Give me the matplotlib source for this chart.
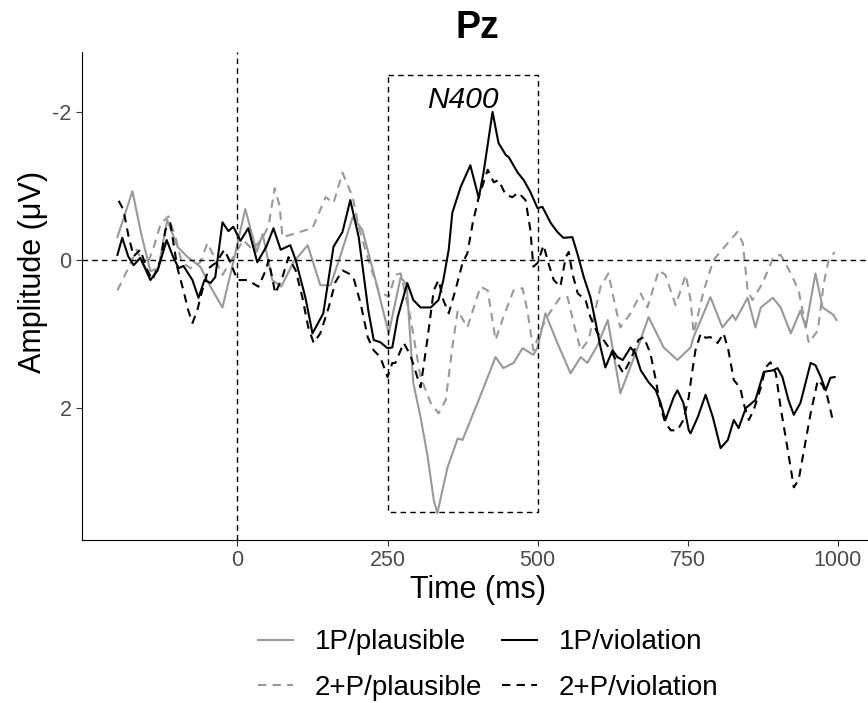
#!/usr/bin/env python3
import matplotlib
matplotlib.use("Agg")
from matplotlib import pyplot as plt

plt.rcParams['font.family'] = ['Liberation Sans', 'DejaVu Sans']
plt.rcParams['axes.unicode_minus'] = False

# 1P/plausible (grey solid)
t_1p_pl = [-200, -175, -160, -145, -132, -117, -100, -83, -62, -45, -25, -7, 13, 32, 42, 58, 73, 93,
           117, 138, 155, 172, 192, 208, 230, 252, 272, 282, 293, 305, 317, 327, 333, 350, 367, 375,
           400, 417, 430, 443, 460, 475, 493, 500, 513, 533, 555, 572, 583, 600, 617, 638, 667, 685,
           710, 733, 755, 760, 788, 808, 825, 830, 850, 863, 872, 892, 905, 922, 938, 947, 963, 975,
           993, 998]
v_1p_pl = [-0.31, -0.93, -0.34, 0.15, 0.11, -0.54, -0.18, -0.04, 0.09, 0.36, 0.64, 0.03, -0.69, -0.11,
           -0.35, 0.27, 0.36, 0.03, -0.2, 0.34, 0.34, -0.07, -0.58, -0.41, 0.27, 0.99, 0.23, 0.34, 1.66,
           2.12, 2.66, 3.24, 3.42, 2.8, 2.41, 2.43, 1.93, 1.58, 1.31, 1.46, 1.39, 1.19, 1.28, 1.18, 0.72,
           1.12, 1.53, 1.31, 1.39, 1.15, 0.81, 1.8, 1.18, 0.77, 1.18, 1.35, 1.18, 1.04, 0.5, 0.91, 0.74,
           0.81, 0.51, 0.91, 0.64, 0.51, 0.64, 0.99, 0.68, 0.91, 0.18, 0.64, 0.74, 0.81]

# 2+P/plausible (grey dashed)
t_2p_pl = [-200, -182, -168, -153, -140, -128, -115, -103, -93, -78, -62, -50, -38, -25, -12, 0, 10, 25,
           42, 52, 62, 70, 75, 88, 108, 125, 147, 160, 175, 192, 202, 218, 235, 252, 263, 272, 288, 305,
           322, 335, 347, 358, 367, 383, 405, 417, 430, 443, 460, 475, 483, 493, 505, 518, 538, 550, 560,
           572, 585, 605, 618, 630, 638, 655, 672, 683, 702, 713, 730, 747, 755, 760, 777, 793, 817, 833,
           842, 850, 858, 875, 893, 905, 922, 935, 952, 967, 977, 985, 995]
v_2p_pl = [0.41, 0.11, -0.14, 0.11, -0.16, -0.49, -0.59, -0.3, 0.03, 0.11, 0.03, -0.23, -0.03, 0.2, 0.03,
           -0.14, -0.27, -0.14, -0.3, -0.47, -0.97, -0.74, -0.31, -0.34, -0.39, -0.43, -0.85, -0.77, -1.18,
           -0.85, -0.45, 0.0, 0.41, 0.5, 0.2, 0.18, 0.77, 1.58, 1.93, 2.07, 1.89, 1.18, 0.68, 0.91, 0.36,
           0.41, 1.08, 0.77, 0.41, 0.38, 0.68, 1.22, 0.95, 0.74, 0.5, 0.5, 0.85, 1.22, 1.08, 0.36, 0.18,
           0.64, 0.91, 0.72, 0.45, 0.64, 0.14, 0.2, 0.61, 0.2, 0.54, 0.99, 0.41, 0.0, -0.23, -0.38, -0.23,
           0.41, 0.54, 0.31, -0.04, -0.07, 0.18, 0.41, 1.12, 0.95, 0.31, 0.0, -0.11]

# 1P/violation (black solid)
t_1p_vi = [-200, -192, -182, -173, -162, -145, -133, -118, -107, -98, -90, -75, -65, -55, -45, -37, -25,
           -15, -7, 5, 18, 33, 48, 60, 72, 88, 97, 113, 125, 143, 160, 175, 188, 202, 218, 227, 238, 250,
           258, 267, 283, 293, 305, 322, 335, 343, 352, 358, 372, 388, 402, 410, 425, 435, 447, 452, 467,
           477, 488, 500, 508, 522, 533, 543, 558, 567, 577, 588, 597, 605, 613, 625, 633, 642, 655, 663,
           672, 685, 697, 705, 713, 727, 733, 743, 752, 755, 767, 780, 792, 805, 817, 827, 835, 847, 863,
           877, 892, 900, 908, 918, 927, 938, 955, 963, 972, 980, 988, 995]
v_1p_vi = [-0.07, -0.3, -0.05, 0.07, -0.03, 0.27, 0.14, -0.27, -0.04, 0.11, 0.08, 0.27, 0.51, 0.27, 0.31,
           0.23, -0.51, -0.39, -0.45, -0.26, -0.43, 0.03, -0.18, -0.43, -0.14, -0.2, 0.0, 0.5, 0.99, 0.72,
           -0.18, -0.38, -0.81, -0.31, 0.68, 1.08, 1.11, 1.19, 1.18, 0.77, 0.31, 0.54, 0.64, 0.64, 0.54,
           0.27, -0.14, -0.64, -0.99, -1.28, -0.84, -1.18, -2.0, -1.58, -1.42, -1.39, -1.18, -1.08, -0.92,
           -0.7, -0.72, -0.5, -0.38, -0.3, -0.31, -0.07, 0.23, 0.5, 0.85, 1.18, 1.45, 1.22, 1.31, 1.35,
           1.18, 1.26, 1.49, 1.65, 1.76, 1.93, 2.16, 1.85, 1.76, 1.93, 2.3, 2.34, 2.12, 1.82, 2.12, 2.54,
           2.43, 2.16, 2.27, 2.0, 1.89, 1.51, 1.49, 1.46, 1.58, 1.89, 2.09, 1.93, 1.39, 1.42, 1.58, 1.76,
           1.59, 1.58]

# 2+P/violation (black dashed)
t_2p_vi = [-198, -190, -182, -173, -162, -150, -142, -128, -120, -112, -100, -90, -82, -75, -67, -60, -48,
           -35, -22, -12, 0, 17, 35, 47, 52, 63, 75, 85, 97, 108, 118, 127, 138, 152, 163, 175, 185, 193,
           205, 217, 227, 238, 250, 258, 263, 277, 288, 305, 317, 327, 335, 343, 352, 363, 375, 383, 392,
           402, 417, 427, 435, 447, 458, 468, 480, 488, 493, 500, 510, 518, 527, 538, 547, 552, 558, 567,
           580, 588, 600, 610, 622, 633, 643, 655, 668, 677, 688, 697, 705, 713, 722, 733, 743, 752, 755,
           763, 772, 780, 788, 800, 810, 818, 827, 838, 843, 852, 860, 872, 880, 888, 897, 905, 917, 927,
           935, 943, 955, 967, 975, 983, 993]
v_2p_vi = [-0.8, -0.68, -0.34, -0.05, -0.14, 0.14, 0.27, 0.0, -0.41, -0.5, 0.11, 0.41, 0.68, 0.85, 0.68,
           0.45, 0.11, 0.03, -0.14, 0.03, 0.27, 0.27, 0.36, 0.14, 0.0, 0.45, 0.23, -0.04, 0.14, 0.5, 0.91,
           1.12, 0.99, 0.64, 0.3, 0.14, 0.18, 0.23, 0.58, 1.04, 1.22, 1.31, 1.58, 1.39, 1.39, 1.12, 1.28,
           1.72, 1.04, 0.41, 0.27, 0.54, 0.72, 0.41, 0.04, -0.09, -0.5, -0.85, -1.22, -1.05, -1.08, -0.88,
           -0.85, -0.91, -0.81, -0.41, 0.09, 0.04, -0.2, 0.04, 0.27, 0.36, -0.04, -0.11, 0.18, 0.45, 0.54,
           0.77, 0.99, 1.08, 1.22, 1.39, 1.53, 1.35, 1.08, 1.04, 1.26, 1.62, 1.99, 2.2, 2.3, 2.3, 2.16,
           1.85, 1.66, 1.22, 0.99, 1.05, 1.04, 1.12, 0.99, 1.22, 1.62, 1.73, 1.93, 2.16, 2.03, 1.72, 1.45,
           1.38, 1.53, 1.99, 2.57, 3.07, 2.97, 2.61, 2.07, 1.62, 1.69, 1.85, 2.2]

labels = ['1P/plausible', '2+P/plausible', '1P/violation', '2+P/violation']
x_ticks = [0, 250, 500, 750, 1000]
y_ticks = [-2, 0, 2]
n400_window = (250, 500)
n400_amp = (-2.5, 3.4)

grey = '#999999'
dash = (0, (4, 3))

fig = plt.figure(figsize=(8.68, 7.03), dpi=100)
# panel runs a little past the right edge, as in the original export
ax = fig.add_axes([0.0945, 0.232, 0.912, 0.694])

ax.plot(t_1p_pl, v_1p_pl, color=grey, lw=1.5, label=labels[0])
ax.plot(t_2p_pl, v_2p_pl, color=grey, lw=1.5, linestyle=dash, label=labels[1])
ax.plot(t_1p_vi, v_1p_vi, color='black', lw=1.5, label=labels[2])
ax.plot(t_2p_vi, v_2p_vi, color='black', lw=1.5, linestyle=dash, label=labels[3])

# reference lines
ax.axhline(0, color='black', lw=1, linestyle=(0, (4, 3)))
ax.axvline(0, color='black', lw=1, linestyle=(0, (4, 3)))

# N400 window
x0, x1 = n400_window
y0, y1 = n400_amp
ax.plot([x0, x1, x1, x0, x0], [y0, y0, y1, y1, y0], color='black', lw=1, linestyle=(0, (4, 3)))
ax.text((x0 + x1) / 2, -2.16, 'N400', style='italic', fontsize=21.5, ha='center', va='center')

ax.set_xlim(-259, 1060)
ax.set_ylim(3.78, -2.81)
ax.set_xticks(x_ticks)
ax.set_yticks(y_ticks)
ax.tick_params(labelsize=15.5, labelcolor='#4D4D4D', color='#333333', length=4)
for s in ['top', 'right']:
    ax.spines[s].set_visible(False)

ax.set_xlabel('Time (ms)', fontsize=22, labelpad=3)
ax.set_ylabel('Amplitude (μV)', fontsize=22)
ax.yaxis.set_label_coords(-0.043, 0.55)
ax.set_title('Pz', fontsize=27, fontweight='bold', pad=10)

fig.legend(loc='center', bbox_to_anchor=(0.5625, 0.054), ncol=2, frameon=False,
           fontsize=20, handlelength=1.26, handletextpad=0.79, labelspacing=0.69,
           columnspacing=0.7)

plt.savefig('out.png', dpi=100)
